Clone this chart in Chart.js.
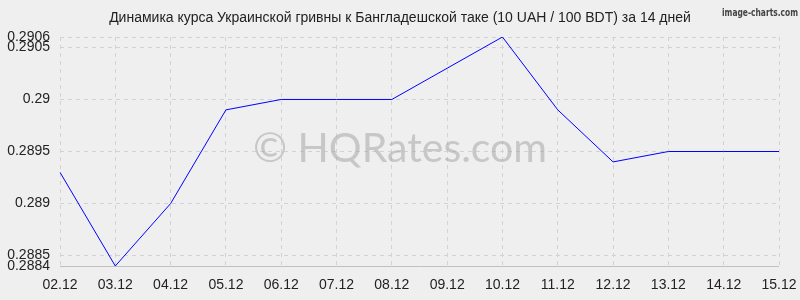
<!DOCTYPE html>
<html>
<head>
<meta charset="utf-8">
<script src="https://cdn.jsdelivr.net/npm/chart.js@4"></script>
<style>
  html, body { margin: 0; padding: 0; background: #efefef; }
  #wrap { width: 800px; height: 300px; position: relative; }
</style>
</head>
<body>
<div id="wrap"><canvas id="c" width="800" height="300"></canvas></div>
<script>
const categories = ["02.12","03.12","04.12","05.12","06.12","07.12","08.12","09.12","10.12","11.12","12.12","13.12","14.12","15.12"];
const rates = [0.2893, 0.2884, 0.2890, 0.2899, 0.2900, 0.2900, 0.2900, 0.2903, 0.2906, 0.2899, 0.2894, 0.2895, 0.2895, 0.2895];
const yTickValues = [0.2884, 0.2885, 0.2890, 0.2895, 0.2900, 0.2905, 0.2906];
const yTickLabels = ["0.2884", "0.2885", "0.289", "0.2895", "0.29", "0.2905", "0.2906"];
const titleText = "Динамика курса Украинской гривны к Бангладешской таке (10 UAH / 100 BDT) за 14 дней";
const watermarkText = "© HQRates.com";
const creditText = "image-charts.com";

const extras = {
  id: 'extras',
  beforeDatasetsDraw(chart) {
    const ctx = chart.ctx;
    const area = chart.chartArea;
    ctx.save();
    // solid bottom axis line
    ctx.strokeStyle = '#c0c0c0';
    ctx.lineWidth = 1;
    ctx.setLineDash([]);
    ctx.beginPath();
    ctx.moveTo(area.left, Math.round(area.bottom) + 0.5);
    ctx.lineTo(area.right, Math.round(area.bottom) + 0.5);
    ctx.stroke();
    ctx.font = '41px Lato';
    ctx.fillStyle = 'rgba(160,160,160,0.5)';
    ctx.textAlign = 'center';
    ctx.textBaseline = 'alphabetic';
    ctx.fillText(watermarkText, 400, 162);
    ctx.restore();
  },
  afterDraw(chart) {
    const ctx = chart.ctx;
    ctx.save();
    ctx.font = '14px "Liberation Sans", Arial, sans-serif';
    ctx.fillStyle = '#222';
    ctx.textAlign = 'center';
    ctx.textBaseline = 'middle';
    ctx.fillText(titleText, 400, 18);
    ctx.restore();
    ctx.save();
    ctx.font = 'bold 11px "DejaVu Sans Condensed", sans-serif';
    ctx.fillStyle = '#444';
    ctx.textAlign = 'right';
    ctx.textBaseline = 'middle';
    const w = ctx.measureText(creditText).width;
    const sx = 76 / w;
    ctx.translate(798, 13);
    ctx.scale(sx, 1);
    ctx.fillText(creditText, 0, 0);
    ctx.restore();
  }
};

new Chart(document.getElementById('c'), {
  type: 'line',
  data: {
    labels: categories,
    datasets: [{
      data: rates,
      borderColor: '#0000ff',
      borderWidth: 1,
      pointRadius: 0,
      tension: 0,
      fill: false
    }]
  },
  options: {
    responsive: false,
    animation: false,
    layout: { padding: { top: 37, right: 21, bottom: 0, left: 0 } },
    plugins: {
      legend: { display: false },
      tooltip: { enabled: false },
      title: { display: false }
    },
    scales: {
      x: {
        type: 'category',
        offset: false,
        grid: { color: '#d2d2d2', drawTicks: true, tickLength: 8, tickColor: 'rgba(0,0,0,0)', lineWidth: 1 },
        border: { display: false, dash: [4, 4] },
        ticks: {
          color: '#222',
          padding: 3,
          maxRotation: 0,
          autoSkip: false,
          font: { family: '"Liberation Sans", Arial, sans-serif', size: 14 }
        },
        afterFit(scale) { scale.height = 34; }
      },
      y: {
        type: 'linear',
        min: 0.2884,
        max: 0.2906,
        afterBuildTicks(scale) {
          scale.ticks = yTickValues.map(v => ({ value: v }));
        },
        grid: { color: '#d2d2d2', drawTicks: false, lineWidth: 1 },
        border: { display: false, dash: [4, 4] },
        ticks: {
          color: '#222',
          padding: 10,
          autoSkip: false,
          font: { family: '"Liberation Sans", Arial, sans-serif', size: 14 },
          callback(value, index) { return yTickLabels[index]; }
        },
        afterFit(scale) { scale.width = 60; }
      }
    }
  },
  plugins: [extras]
});
</script>
</body>
</html>
